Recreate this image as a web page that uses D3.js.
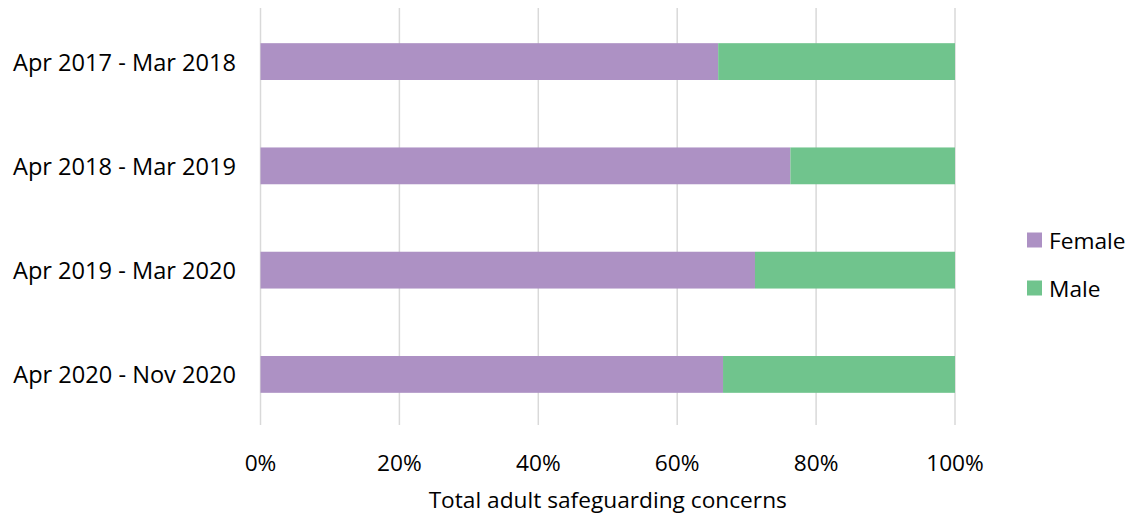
<!DOCTYPE html>
<html>
<head>
<meta charset="utf-8">
<script src="https://cdn.jsdelivr.net/npm/d3@7/dist/d3.min.js"></script>
<style>
  html, body { margin: 0; padding: 0; background: #fff; }
  svg text { font-family: "Open Sans", sans-serif; fill: #000; }
</style>
</head>
<body>
<svg id="chart" width="1131" height="513"></svg>
<script>
// Share of adult safeguarding concerns by gender, per reporting period
const periods = ["Apr 2017 - Mar 2018", "Apr 2018 - Mar 2019", "Apr 2019 - Mar 2020", "Apr 2020 - Nov 2020"];
const female = [65.9, 76.3, 71.2, 66.6];
const male = [34.1, 23.7, 28.8, 33.4];
const seriesNames = ["Female", "Male"];
const seriesColors = ["#AD91C4", "#70C48D"];
const xTicks = [0, 20, 40, 60, 80, 100];
const xTitle = "Total adult safeguarding concerns";

const svg = d3.select("#chart");
const W = 1131;
const plot = { left: 260.5, right: 955, top: 8, bottom: 425 };
const fs = 22.7;

const x = d3.scaleLinear().domain([0, 100]).range([plot.left, plot.right]);
const y = d3.scaleBand().domain(periods).range([plot.top + 1.5, plot.bottom + 1.5]).paddingInner(0.647).paddingOuter(0.323);

// vertical gridlines
svg.append("g").selectAll("line").data(xTicks).join("line")
  .attr("x1", d => x(d)).attr("x2", d => x(d))
  .attr("y1", plot.top).attr("y2", plot.bottom)
  .attr("stroke", "#D9D9D9").attr("stroke-width", 1.5);

// stacked bars
const rows = periods.map((p, i) => ({ period: p, Female: female[i], Male: male[i] }));
const stacked = d3.stack().keys(seriesNames)(rows);
svg.append("g").selectAll("g").data(stacked).join("g")
  .attr("fill", (d, i) => seriesColors[i])
  .selectAll("rect").data(d => d).join("rect")
  .attr("x", d => x(d[0]))
  .attr("width", d => x(d[1]) - x(d[0]))
  .attr("y", d => y(d.data.period))
  .attr("height", y.bandwidth());

// category labels
svg.append("g").selectAll("text").data(periods).join("text")
  .attr("x", 236).attr("y", d => y(d) + y.bandwidth() / 2)
  .attr("text-anchor", "end").attr("dominant-baseline", "central")
  .attr("font-size", 23.6).text(d => d);

// x axis tick labels
svg.append("g").selectAll("text").data(xTicks).join("text")
  .attr("x", d => x(d)).attr("y", 462)
  .attr("text-anchor", "middle").attr("dominant-baseline", "central")
  .attr("font-size", fs).text(d => d + "%");

// axis title
svg.append("text")
  .attr("x", (x(0) + x(100)) / 2).attr("y", 499)
  .attr("text-anchor", "middle").attr("dominant-baseline", "central")
  .attr("font-size", fs).text(xTitle);

// legend
const legend = svg.append("g").selectAll("g").data(seriesNames).join("g")
  .attr("transform", (d, i) => `translate(1027, ${240 + i * 48})`);
legend.append("rect").attr("x", 0).attr("y", -7.5).attr("width", 15).attr("height", 15)
  .attr("fill", (d, i) => seriesColors[i]);
legend.append("text").attr("x", 22).attr("y", 0)
  .attr("dominant-baseline", "central").attr("font-size", fs).text(d => d);
</script>
</body>
</html>
